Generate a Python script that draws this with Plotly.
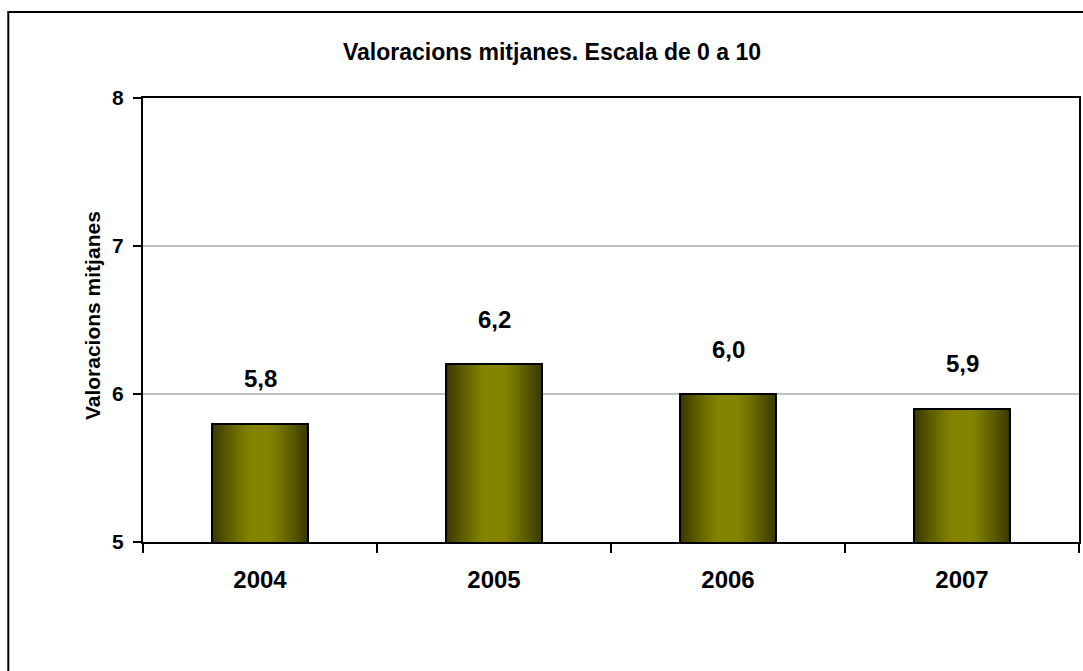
import plotly.graph_objects as go

# Average ratings by year (scale 0 to 10)
years = ["2004", "2005", "2006", "2007"]
ratings = [5.8, 6.2, 6.0, 5.9]
y_ticks = [5, 6, 7, 8]

title_text = "Valoracions mitjanes. Escala de 0 a 10"
y_title = "Valoracions mitjanes"

FONT = "Liberation Sans, Arial, sans-serif"
BAR_W = 0.41          # bar width as a fraction of a category
EDGE = (0x3a, 0x3a, 0x00)
CENTER = (0x84, 0x84, 0x00)

fig = go.Figure()

# Cylinder-like horizontal shading: nested bars, darkest at the edges
n_layers = 24
for k in range(n_layers):
    d = 1 - k / n_layers            # 1 at the edge, towards 0 at the centre
    t = max(0.0, (d - 0.2) / 0.8) ** 1.2
    rgb = tuple(round(c + (e - c) * t) for c, e in zip(CENTER, EDGE))
    fig.add_trace(go.Bar(
        x=years, y=ratings, width=BAR_W * d,
        marker=dict(color="rgb(%d,%d,%d)" % rgb, line=dict(width=0)),
        hoverinfo="skip", showlegend=False,
    ))

# Outline of each bar
fig.add_trace(go.Bar(
    x=years, y=ratings, width=BAR_W,
    marker=dict(color="rgba(0,0,0,0)", line=dict(color="black", width=2)),
    showlegend=False,
))

annotations = []
for i, v in enumerate(ratings):
    annotations.append(dict(
        x=i, y=v, xref="x", yref="y", text=("%.1f" % v).replace(".", ","),
        showarrow=False, yanchor="middle", yshift=45,
        font=dict(family=FONT, size=24, color="black", weight="bold"),
    ))

annotations.append(dict(
    x=(553 - 143) / 938, y=(542 - 52) / 444, xref="paper", yref="paper",
    text=title_text, showarrow=False, xanchor="center", yanchor="middle",
    font=dict(family=FONT, size=23, color="black", weight="bold"),
))
annotations.append(dict(
    x=(92 - 143) / 938, y=(542 - 316) / 444, xref="paper", yref="paper",
    text=y_title, showarrow=False, textangle=-90, xanchor="center", yanchor="middle",
    font=dict(family=FONT, size=21, color="black", weight="bold"),
))

fig.update_layout(
    width=1083, height=671,
    margin=dict(l=143, r=2, t=98, b=129),
    paper_bgcolor="white", plot_bgcolor="white",
    barmode="overlay", bargap=0,
    annotations=annotations,
    shapes=[dict(
        type="rect", xref="paper", yref="paper",
        x0=(8 - 143) / 938, x1=1.2, y0=-0.6, y1=(542 - 12) / 444,
        line=dict(color="black", width=2), fillcolor="rgba(0,0,0,0)", layer="below",
    )],
)

fig.update_xaxes(
    type="category", range=[-0.5, len(years) - 0.5], autorange=False,
    showgrid=False, showline=True, linecolor="black", linewidth=2,
    mirror=True, ticks="outside", tickson="boundaries", ticklen=9, tickwidth=2,
    tickcolor="black", ticklabelstandoff=15, tickangle=0,
    tickfont=dict(family=FONT, size=24, color="black", weight="bold"),
)
fig.update_yaxes(
    range=[5, 8], autorange=False, tickvals=y_ticks, showgrid=True,
    gridcolor="#c0c0c0", gridwidth=2,
    showline=True, linecolor="black", linewidth=2, mirror=True,
    ticks="outside", ticklen=8, tickwidth=2, tickcolor="black", ticklabelstandoff=5,
    tickfont=dict(family=FONT, size=21, color="black", weight="bold"),
    zeroline=False,
)

fig.write_html("out.html")
